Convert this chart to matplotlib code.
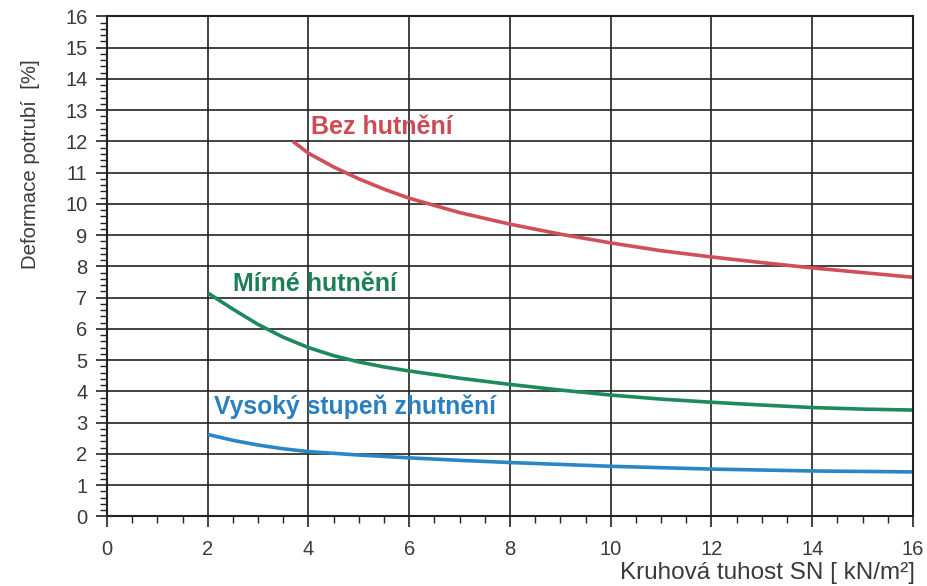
import numpy as np
import matplotlib.pyplot as plt
from matplotlib.ticker import MultipleLocator

plt.rcParams['font.family'] = ['Liberation Sans', 'DejaVu Sans']

# Curves (x = SN in kN/m2, y = deformation in %)
bez_x = [3.69, 4, 4.5, 5, 5.5, 6, 7, 8, 9, 10, 11, 12, 13, 14, 15, 16]
bez_y = [12.0, 11.62, 11.18, 10.8, 10.47, 10.18, 9.72, 9.35, 9.03, 8.75, 8.5, 8.3, 8.12, 7.95, 7.8, 7.65]

mirne_x = [2, 2.5, 3, 3.5, 4, 4.5, 5, 5.5, 6, 7, 8, 9, 10, 11, 12, 13, 14, 15, 16]
mirne_y = [7.15, 6.63, 6.14, 5.73, 5.4, 5.14, 4.94, 4.78, 4.65, 4.42, 4.22, 4.04, 3.88, 3.75, 3.65, 3.56, 3.48, 3.43, 3.4]

vysoky_x = [2, 2.5, 3, 3.5, 4, 5, 6, 7, 8, 10, 12, 14, 16]
vysoky_y = [2.62, 2.43, 2.28, 2.16, 2.07, 1.96, 1.87, 1.79, 1.72, 1.6, 1.51, 1.45, 1.42]

x_ticks = [0, 2, 4, 6, 8, 10, 12, 14, 16]
y_ticks = list(range(0, 17))

red = '#d04f58'
green = '#1d8a5b'
blue = '#2b86c8'

fig = plt.figure(figsize=(9.27, 5.86), dpi=100)
ax = fig.add_axes([0.1154, 0.119, 0.8695, 0.853])

ax.plot(bez_x, bez_y, color=red, lw=2.6, solid_capstyle='butt')
ax.plot(mirne_x, mirne_y, color=green, lw=2.6, solid_capstyle='butt')
ax.plot(vysoky_x, vysoky_y, color=blue, lw=2.6, solid_capstyle='butt')

ax.text(4.05, 12.45, 'Bez hutnění', color='#cc4b55', fontsize=18,
        fontweight='bold', va='center', ha='left')
ax.text(2.5, 7.45, 'Mírné hutnění', color='#1d7f55', fontsize=18,
        fontweight='bold', va='center', ha='left')
ax.text(2.12, 3.5, 'Vysoký stupeň zhutnění', color='#2b7fc0', fontsize=17.8,
        fontweight='bold', va='center', ha='left')

ax.set_xlim(0, 16)
ax.set_ylim(0, 16)
ax.set_xticks(x_ticks)
ax.set_yticks(y_ticks)
ax.xaxis.set_minor_locator(MultipleLocator(0.5))
ax.yaxis.set_minor_locator(MultipleLocator(0.2))

ax.grid(True, which='major', color='#222222', lw=1.2)
ax.set_axisbelow(True)
for s in ax.spines.values():
    s.set_color('#222222')
    s.set_linewidth(1.5)

ax.tick_params(which='major', direction='out', length=8, width=1.2,
               color='#222222', labelsize=14.5, labelcolor='#3a3a3a', pad=6)
ax.tick_params(which='minor', direction='out', length=5, width=1.0,
               color='#222222')
ax.tick_params(axis='x', which='major', pad=9)

fig.text(0.033, 0.72, 'Deformace potrubí  [%]', rotation=90, fontsize=14.7,
         color='#3a3a3a', ha='center', va='center')
fig.text(0.987, 0.022, 'Kruhová tuhost SN [ kN/m²]', fontsize=17.5,
         color='#3a3a3a', ha='right', va='center')

fig.savefig('out.png', dpi=100)
